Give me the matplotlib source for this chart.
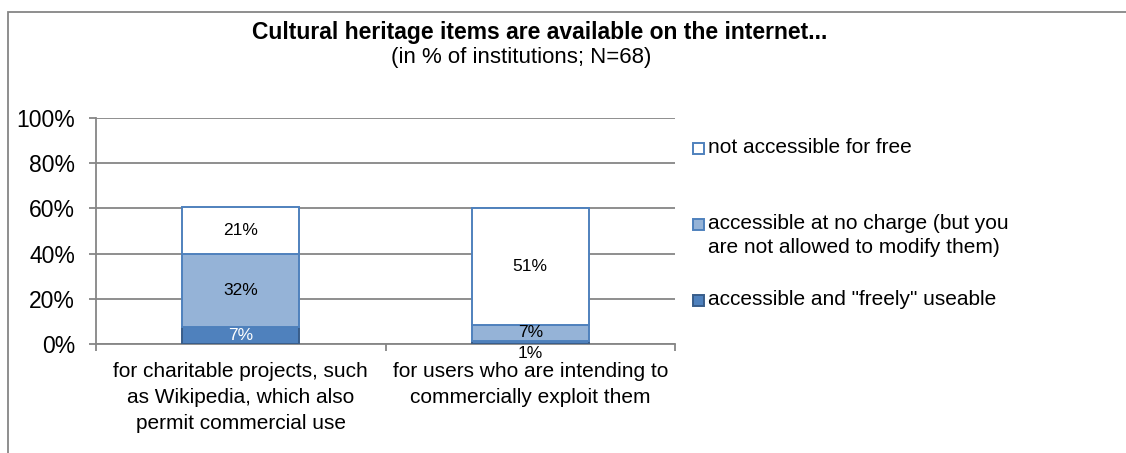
import matplotlib
matplotlib.use('Agg')
import matplotlib.pyplot as plt
import matplotlib.patches as mpatches
import numpy as np

plt.rcParams['font.family'] = ['Liberation Sans', 'DejaVu Sans']

# ── data ───────────────────────────────────────────────────────────────────────
categories = ["for charitable projects, such\nas Wikipedia, which also\npermit commercial use",
              "for users who are intending to\ncommercially exploit them"]
series_names = ['accessible and "freely" useable',
                'accessible at no charge (but you\nare not allowed to modify them)',
                'not accessible for free']
freely_useable = [7.4, 1.2]
no_charge = [32.4, 7.4]
not_free = [20.8, 51.4]
yticks = [0, 20, 40, 60, 80, 100]

# ── colors ─────────────────────────────────────────────────────────────────────
FILLS = ['#4F81BD', '#95B3D7', '#FFFFFF']
EDGES = ['#385D8A', '#4F81BD', '#4F81BD']
LBL_COL = ['white', 'black', 'black']
GRID = '#868686'

fig = plt.figure(figsize=(11.26, 4.53), dpi=100)
ax = fig.add_axes([96 / 1126, 1 - 344 / 453, (675 - 96) / 1126, (344 - 118) / 453])

# outer chart frame (right and bottom edges fall outside the picture)
fig.patches.append(mpatches.Rectangle((8 / 1126, -0.2), 1.2, 1 - 12 / 453 + 0.2,
                                      transform=fig.transFigure, fill=False,
                                      edgecolor=GRID, linewidth=1.3))

x = np.arange(len(categories))
series = [freely_useable, no_charge, not_free]
bottom = np.zeros(len(categories))
for i, vals in enumerate(series):
    vals = np.array(vals, dtype=float)
    ax.bar(x, vals, width=0.404, bottom=bottom, color=FILLS[i], edgecolor=EDGES[i],
           linewidth=1.4, zorder=3)
    for j, v in enumerate(vals):
        if v < 3:
            # label too small for the segment: pushed below the axis
            ax.annotate(f"{v:.0f}%", (x[j], bottom[j]), xytext=(0, -6.5),
                        textcoords='offset points', ha='center', va='center',
                        fontsize=12.5, color='black', zorder=5)
        else:
            ax.text(x[j], bottom[j] + v / 2, f"{v:.0f}%", ha='center', va='center',
                    fontsize=12.5, color=LBL_COL[i], zorder=5)
    bottom += vals

# ── axes ───────────────────────────────────────────────────────────────────────
ax.set_xlim(-0.5, 1.5)
ax.set_ylim(0, 100)
ax.set_yticks(yticks)
ax.set_yticklabels([f"{t}%" for t in yticks], fontsize=16.5)
ax.yaxis.grid(True, color=GRID, linewidth=1.3, zorder=0)
ax.set_axisbelow(True)
ax.tick_params(axis='y', length=5, width=1.3, color=GRID, pad=10)

ax.set_xticks(x)
ax.set_xticklabels(categories, fontsize=15, linespacing=1.48)
ax.tick_params(axis='x', length=0, pad=13)
ax.set_xticks([-0.5, 0.5, 1.5], minor=True)
ax.tick_params(axis='x', which='minor', length=5, width=1.3, color=GRID)

for s in ['top', 'right']:
    ax.spines[s].set_visible(False)
for s in ['left', 'bottom']:
    ax.spines[s].set_color(GRID)
    ax.spines[s].set_linewidth(1.3)

# ── titles ─────────────────────────────────────────────────────────────────────
fig.text(540 / 1126, 1 - 32 / 453, "Cultural heritage items are available on the internet...",
         ha='center', va='center', fontsize=16.5, fontweight='bold')
fig.text(521 / 1126, 1 - 57 / 453, "(in % of institutions; N=68)",
         ha='center', va='center', fontsize=16)

# ── legend (drawn by hand to follow the original spacing) ──────────────────────
leg_y = [300, 224, 148]   # first-line centre of each entry, px from top
for i in range(3):
    yc = 1 - leg_y[i] / 453
    fig.patches.append(mpatches.Rectangle((693 / 1126, yc - 5.5 / 453), 11 / 1126, 11 / 453,
                                          transform=fig.transFigure, facecolor=FILLS[i],
                                          edgecolor=EDGES[i], linewidth=1.4))
    fig.text(708 / 1126, yc + 10 / 453, series_names[i], ha='left', va='top',
             fontsize=15, linespacing=1.33)

plt.savefig('out.png', dpi=100)
plt.close()
